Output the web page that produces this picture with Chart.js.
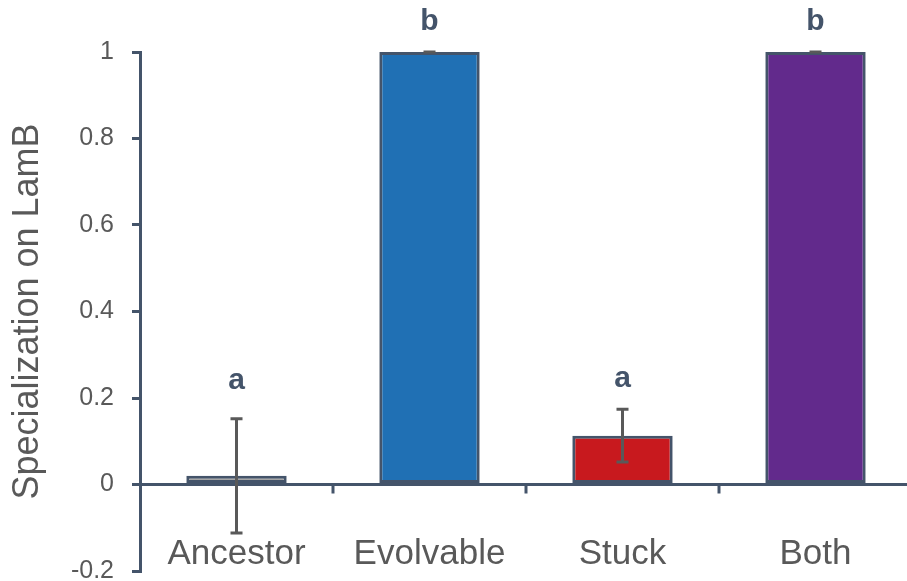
<!DOCTYPE html>
<html>
<head>
<meta charset="utf-8">
<script src="https://cdn.jsdelivr.net/npm/chart.js@4.4.1/dist/chart.umd.min.js"></script>
<style>
    html, body { margin: 0; padding: 0; background: #fff; overflow: hidden; }
</style>
</head>
<body>
<canvas id="specChart" width="912" height="599"></canvas>
<script>
const categories = ['Ancestor', 'Evolvable', 'Stuck', 'Both'];
const specialization = [0.02, 1, 0.113, 1];
const errors = [0.132, 0, 0.061, 0];
const groupLetters = ['a', 'b', 'a', 'b'];
const letterHeights = [0.24, 1.07, 0.245, 1.07];
const barColors = ['#a5a5a5', '#2070b4', '#c8191e', '#622a8c'];
const yTicks = [-0.2, 0, 0.2, 0.4, 0.6, 0.8, 1];

const axisColor = '#44546a';
const textColor = '#595959';
const fontFamily = '"Liberation Sans", Arial, sans-serif';

// error bars, group letters, category names and the small ticks on the zero line
const annotations = {
    id: 'annotations',
    afterDatasetsDraw(chart) {
        const ctx = chart.ctx;
        const x = chart.scales.x;
        const y = chart.scales.y;
        const y0 = y.getPixelForValue(0);

        ctx.save();
        ctx.strokeStyle = axisColor;
        ctx.lineWidth = 3;
        for (let i = 0; i < categories.length - 1; i++) {
            const xb = (x.getPixelForValue(i) + x.getPixelForValue(i + 1)) / 2;
            ctx.beginPath();
            ctx.moveTo(xb, y0);
            ctx.lineTo(xb, y0 + 9);
            ctx.stroke();
        }

        ctx.strokeStyle = textColor;
        specialization.forEach((v, i) => {
            const cx = x.getPixelForValue(i);
            const top = y.getPixelForValue(v + errors[i]);
            const bottom = y.getPixelForValue(v - errors[i]);
            ctx.beginPath();
            ctx.moveTo(cx, top);
            ctx.lineTo(cx, bottom);
            ctx.moveTo(cx - 6, top);
            ctx.lineTo(cx + 6, top);
            ctx.moveTo(cx - 6, bottom);
            ctx.lineTo(cx + 6, bottom);
            ctx.stroke();
        });

        ctx.textAlign = 'center';
        ctx.textBaseline = 'middle';
        ctx.fillStyle = axisColor;
        ctx.font = 'bold 30px ' + fontFamily;
        groupLetters.forEach((letter, i) => {
            ctx.fillText(letter, x.getPixelForValue(i), y.getPixelForValue(letterHeights[i]));
        });

        // category names sit inside the plot, just above the -0.2 line
        ctx.fillStyle = textColor;
        ctx.font = '35px ' + fontFamily;
        const labelY = y.getPixelForValue(yTicks[0]) - 17;
        categories.forEach((name, i) => {
            ctx.fillText(name, x.getPixelForValue(i), labelY);
        });
        ctx.restore();
    }
};

new Chart(document.getElementById('specChart').getContext('2d'), {
    type: 'bar',
    data: {
        labels: categories,
        datasets: [{
            data: specialization,
            backgroundColor: barColors,
            borderColor: axisColor,
            borderWidth: 3,
            borderSkipped: false,
            barPercentage: 0.52,
            categoryPercentage: 1
        }]
    },
    options: {
        responsive: false,
        animation: false,
        layout: { padding: { top: 52, right: 0, left: 0, bottom: 11 } },
        plugins: {
            legend: { display: false },
            tooltip: { enabled: false }
        },
        scales: {
            x: {
                display: false
            },
            y: {
                min: -0.2,
                max: 1,
                afterBuildTicks(scale) {
                    scale.ticks = yTicks.map(v => ({ value: v }));
                },
                border: { display: true, color: axisColor, width: 3 },
                grid: {
                    color: c => (c.tick && c.tick.value === 0 ? axisColor : 'rgba(0,0,0,0)'),
                    tickColor: axisColor,
                    lineWidth: 3,
                    tickLength: 8
                },
                ticks: {
                    color: textColor,
                    font: { family: fontFamily, size: 25, lineHeight: 0.8 },
                    padding: 18,
                    callback: v => String(+v.toFixed(1))
                },
                title: {
                    display: true,
                    text: 'Specialization on LamB',
                    color: textColor,
                    font: { family: fontFamily, size: 36 },
                    padding: { top: 6, bottom: 0 }
                },
                afterFit(scale) { scale.width = 140; }
            }
        }
    },
    plugins: [annotations]
});
</script>
</body>
</html>
